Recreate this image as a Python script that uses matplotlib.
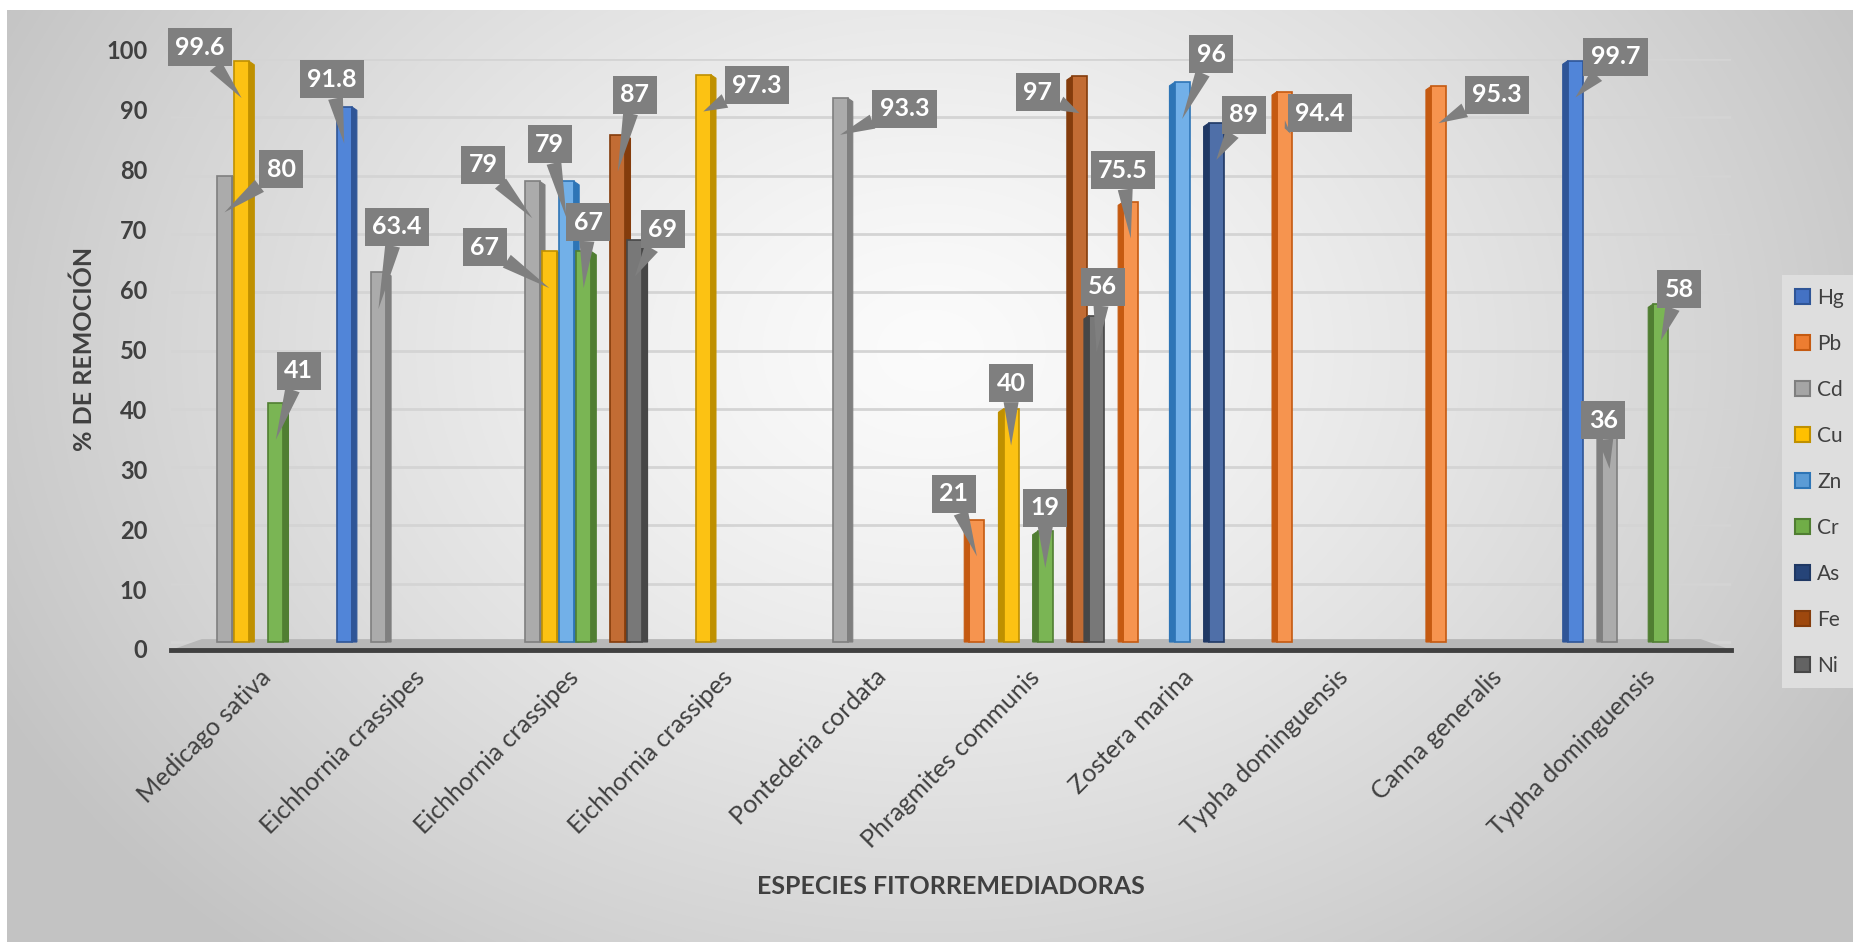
import numpy as np
import matplotlib.pyplot as plt
from matplotlib.patches import Patch, Polygon

plt.rcParams['font.family'] = ['Lato', 'DejaVu Sans']

# datos
especies = ["Medicago sativa", "Eichhornia crassipes", "Eichhornia crassipes",
            "Eichhornia crassipes", "Pontederia cordata", "Phragmites communis",
            "Zostera marina", "Typha dominguensis", "Canna generalis",
            "Typha dominguensis"]
metales = ["Hg", "Pb", "Cd", "Cu", "Zn", "Cr", "As", "Fe", "Ni"]
nan = np.nan
Hg = [nan, 91.8, nan, nan, nan, nan, nan, nan, nan, 99.7]
Pb = [nan, nan, nan, nan, nan, 21, 75.5, 94.4, 95.3, nan]
Cd = [80, 63.4, 79, nan, 93.3, nan, nan, nan, nan, 36]
Cu = [99.6, nan, 67, 97.3, nan, 40, nan, nan, nan, nan]
Zn = [nan, nan, 79, nan, nan, nan, 96, nan, nan, nan]
Cr = [41, nan, 67, nan, nan, 19, nan, nan, nan, 58]
As = [nan, nan, nan, nan, nan, nan, 89, nan, nan, nan]
Fe = [nan, nan, 87, nan, nan, 97, nan, nan, nan, nan]
Ni = [nan, nan, 69, nan, nan, 56, nan, nan, nan, nan]
valores = [Hg, Pb, Cd, Cu, Zn, Cr, As, Fe, Ni]

# colores (leyenda / cara frontal / lado)
colores = ['#4472c4', '#ed7d31', '#a5a5a5', '#ffc000', '#5b9bd5', '#70ad47', '#264478', '#9e480e', '#636363']
caras = ['#5185d8', '#f6944f', '#ababab', '#fcc213', '#72b0e8', '#7ab554', '#4f6fa8', '#c26c34', '#787878']
lados = ['#2f5597', '#c55a11', '#7f7f7f', '#bf9000', '#2e75b6', '#507e32', '#1f3864', '#843c0c', '#474747']

# posicion de las etiquetas: (metal, especie) -> (desplazamiento x, altura)
etiquetas = {
    ("Cu", 0): (-0.27, 102.0), ("Cd", 0): (0.37, 81.1), ("Cr", 0): (0.15, 46.5),
    ("Hg", 1): (-0.08, 96.5), ("Cd", 1): (0.12, 71.2),
    ("Cd", 2): (-0.32, 81.9), ("Cu", 2): (-0.42, 67.7), ("Zn", 2): (-0.11, 85.4),
    ("Cr", 2): (0.03, 72.0), ("Fe", 2): (0.11, 93.9), ("Ni", 2): (0.18, 70.8),
    ("Cu", 3): (0.35, 95.5), ("Cd", 4): (0.42, 91.5),
    ("Pb", 5): (-0.15, 25.4), ("Cu", 5): (0.0, 44.4), ("Cr", 5): (0.0, 23.0),
    ("Fe", 5): (-0.27, 94.3), ("Ni", 5): (0.04, 60.9),
    ("Pb", 6): (-0.05, 80.9), ("Zn", 6): (0.19, 100.8), ("As", 6): (0.18, 90.4),
    ("Pb", 7): (0.23, 90.7), ("Pb", 8): (0.38, 93.9),
    ("Hg", 9): (0.26, 100.4), ("Cd", 9): (-0.04, 38.0), ("Cr", 9): (0.12, 60.5),
}

W, H = 1853, 942
fig = plt.figure(figsize=(W / 100, H / 100), dpi=100)

# fondo degradado
bg = fig.add_axes([0, 0, 1, 1], zorder=-10)
yy, xx = np.mgrid[0:H, 0:W]
r = np.sqrt(((xx - 930) / 1050.0) ** 2 + ((yy - 350) / 800.0) ** 2)
g = 0.985 - 0.22 * np.clip(r, 0, 1) ** 1.3
img = np.dstack([g, g, g])
img[:10, :] = 1
img[:, :7] = 1
bg.imshow(img, aspect='auto', extent=(0, W, H, 0))
bg.set_xlim(0, W)
bg.set_ylim(H, 0)
bg.set_axis_off()

ax = fig.add_axes([171 / W, 1 - 650 / H, 1560.5 / W, 591 / H])
ax.set_xlim(-0.57, 9.57)
ax.set_ylim(-1.37, 100)
ax.patch.set_alpha(0)
for s in ['top', 'right', 'left']:
    ax.spines[s].set_visible(False)
ax.spines['bottom'].set_linewidth(3.5)
ax.spines['bottom'].set_color('#404040')
ax.set_yticks(range(0, 101, 10))
ax.tick_params(axis='y', length=0, labelleft=False)
ax.grid(axis='y', color='#d4d4d4', linewidth=2)
ax.set_axisbelow(True)

# piso
ax.add_patch(Polygon([(-0.57, -1.37), (9.57, -1.37), (9.37, 0.5), (-0.37, 0.5)],
                     closed=True, facecolor='#b8b8b8', edgecolor='none', zorder=1.5))

ancho = 1 / 9
for i, vals in enumerate(valores):
    for c, v in enumerate(vals):
        if np.isnan(v):
            continue
        x = c + (i - 4) * ancho
        w = 0.88 * ancho
        d = 0.3 * ancho if c < 5 else -0.3 * ancho
        z = 3 + i * 0.01
        ax.bar(x, v, width=w, color=caras[i], edgecolor=lados[i], linewidth=1.2, zorder=z)
        xs = x + w / 2 if d > 0 else x - w / 2
        ax.add_patch(Polygon([(xs, 0), (xs + d, 0), (xs + d, v - 0.6), (xs, v)],
                             closed=True, facecolor=lados[i], edgecolor=lados[i], lw=0.8, zorder=z))

for (m, c), (dx, yt) in etiquetas.items():
    i = metales.index(m)
    v = valores[i][c]
    x = c + (i - 4) * ancho
    ax.annotate(f"{v:g}", xy=(x, v - 6.3), xytext=(x + dx, yt), ha='center', va='center',
                fontsize=18, fontweight='bold', color='white', zorder=10, annotation_clip=False,
                bbox=dict(boxstyle='square,pad=0.3', fc='#7f7f7f', ec='none'),
                arrowprops=dict(arrowstyle='wedge,tail_width=0.6', fc='#7f7f7f', ec='none',
                                shrinkA=0, shrinkB=0))

ax.set_xticks(range(len(especies)))
ax.set_xticklabels(especies, rotation=45, ha='right', va='top', rotation_mode='anchor',
                   fontsize=18, color='#404040')
ax.tick_params(axis='x', length=0, pad=11)

# etiquetas del eje y
axl = fig.add_axes([171 / W, 1 - 649 / H, 0.001, 599.5 / H])
axl.set_ylim(0, 100)
axl.set_yticks(range(0, 101, 10))
axl.set_yticklabels([str(t) for t in range(0, 101, 10)], fontweight='bold')
axl.tick_params(length=0, labelsize=17, labelcolor='#404040', pad=17)
axl.set_xticks([])
for s in axl.spines.values():
    s.set_visible(False)
axl.patch.set_alpha(0)

fig.text(84 / W, 1 - 349 / H, '% DE REMOCIÓN', rotation=90, ha='center', va='center',
         fontsize=18, fontweight='bold', color='#404040')
fig.text(951 / W, 1 - 886 / H, 'ESPECIES FITORREMEDIADORAS', ha='center', va='center',
         fontsize=18, fontweight='bold', color='#404040')

handles = [Patch(facecolor=colores[i], edgecolor=lados[i], linewidth=1.5) for i in range(len(metales))]
leg = fig.legend(handles, metales, loc='upper left', bbox_to_anchor=(1782 / W, 1 - 275 / H),
                 frameon=True, facecolor='#dedede', edgecolor='none', fancybox=False,
                 fontsize=15, labelspacing=1.25, handlelength=0.75, handleheight=0.75,
                 handletextpad=0.35, borderpad=0.6, borderaxespad=0)
for t in leg.get_texts():
    t.set_color('#404040')
leg.get_frame().set_alpha(1)

fig.savefig('out.png', dpi=100)
